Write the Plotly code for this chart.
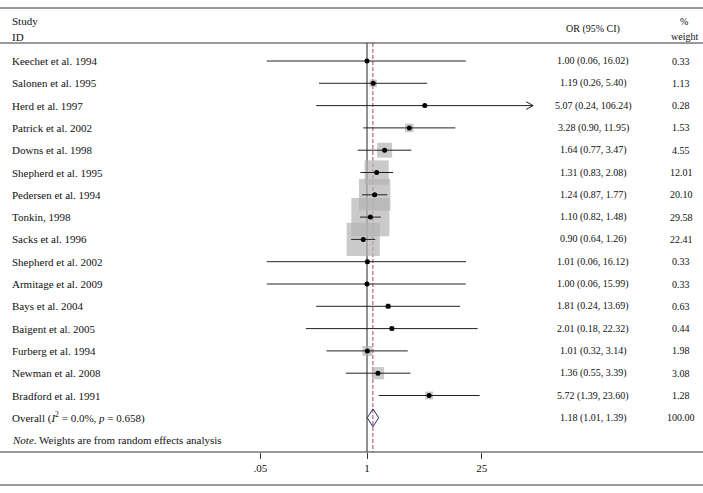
import numpy as np
import plotly.graph_objects as go

studies = [
    "Keechet et al. 1994", "Salonen et al. 1995", "Herd et al. 1997", "Patrick et al. 2002",
    "Downs et al. 1998", "Shepherd et al. 1995", "Pedersen et al. 1994", "Tonkin, 1998",
    "Sacks et al. 1996", "Shepherd et al. 2002", "Armitage et al. 2009", "Bays et al. 2004",
    "Baigent et al. 2005", "Furberg et al. 1994", "Newman et al. 2008", "Bradford et al. 1991",
]
or_est = [1.00, 1.19, 5.07, 3.28, 1.64, 1.31, 1.24, 1.10, 0.90, 1.01, 1.00, 1.81, 2.01, 1.01, 1.36, 5.72]
ci_lo = [0.06, 0.26, 0.24, 0.90, 0.77, 0.83, 0.87, 0.82, 0.64, 0.06, 0.06, 0.24, 0.18, 0.32, 0.55, 1.39]
ci_hi = [16.02, 5.40, 106.24, 11.95, 3.47, 2.08, 1.77, 1.48, 1.26, 16.12, 15.99, 13.69, 22.32, 3.14, 3.39, 23.60]
weight = [0.33, 1.13, 0.28, 1.53, 4.55, 12.01, 20.10, 29.58, 22.41, 0.33, 0.33, 0.63, 0.44, 1.98, 3.08, 1.28]

overall = {"est": 1.18, "lo": 1.01, "hi": 1.39, "weight": 100.00}
tick_vals = [0.05, 1, 25]
tick_text = [".05", "1", "25"]

W, H = 703, 493
PLOT_H = 452
PX_DEC = 82      # pixels per decade on the OR axis
PX_ROW = 22.3    # pixels per study row
FONT = "Liberation Serif"
FS = 11
FS_NUM = 10

rows = np.arange(len(studies))
lx = np.log10(or_est)
llo = np.log10(ci_lo)
lhi = np.log10(ci_hi)

fig = go.Figure()

# weight squares
fig.add_trace(go.Scatter(
    x=lx, y=rows, mode="markers",
    marker=dict(symbol="square", size=7 * np.sqrt(weight), color="#b4b4b4", line=dict(width=0)),
    hoverinfo="skip", showlegend=False,
))

# confidence intervals (arrowhead where the interval runs off the scale)
cx, cy = [], []
for i in rows:
    cx += [llo[i], lhi[i], None]
    cy += [i, i, None]
herd = studies.index("Herd et al. 1997")
back = 7 / PX_DEC
cx += [lhi[herd] - back, lhi[herd], lhi[herd] - back, None]
cy += [herd - 0.17, herd, herd + 0.17, None]
fig.add_trace(go.Scatter(x=cx, y=cy, mode="lines", line=dict(color="#222", width=1),
                         hoverinfo="skip", showlegend=False))

# point estimates
fig.add_trace(go.Scatter(x=lx, y=rows, mode="markers",
                         marker=dict(symbol="circle", size=5, color="black"),
                         showlegend=False))

# overall diamond
oy = len(studies)
ox = np.log10([overall["lo"], overall["est"], overall["hi"], overall["est"], overall["lo"]])
fig.add_trace(go.Scatter(x=ox, y=[oy, oy - 0.4, oy, oy + 0.4, oy], mode="lines",
                         line=dict(color="#2b2a7a", width=1), showlegend=False))

x_left = -367 / PX_DEC
x_right = (W - 367) / PX_DEC
y_top = -61 / PX_ROW
y_bot = (PLOT_H - 61) / PX_ROW


def py(pix):
    return 1 - pix / PLOT_H


# reference lines
fig.add_shape(type="line", x0=0, x1=0, y0=py(43), y1=0, xref="x", yref="paper",
              line=dict(color="#222", width=1), layer="below")
fig.add_shape(type="line", x0=np.log10(overall["est"]), x1=np.log10(overall["est"]),
              y0=py(43), y1=0, xref="x", yref="paper",
              line=dict(color="#a8455e", width=1, dash="4px,2px"), layer="below")
for pix in [8, 43, 452, 485]:
    fig.add_shape(type="line", x0=0, x1=1, y0=py(pix), y1=py(pix), xref="paper", yref="paper",
                  line=dict(color="#333", width=1))


def label(x, y, text, yref="y", anchor="center", size=FS):
    fig.add_annotation(x=x / W, y=y, text=text, xref="paper", yref=yref, xanchor=anchor,
                       yanchor="middle", showarrow=False,
                       font=dict(family=FONT, size=size, color="#111"))


# headers
label(10, py(21), "Study", "paper", "left")
label(10, py(37), "ID", "paper", "left")
label(593, py(29), "OR (95% CI)", "paper", size=FS_NUM)
label(684, py(21), "%", "paper", size=FS_NUM)
label(684, py(37), "weight", "paper", size=FS_NUM)

for i, name in enumerate(studies):
    label(10, i, name, anchor="left")
    label(593, i, f"{or_est[i]:.2f} ({ci_lo[i]:.2f}, {ci_hi[i]:.2f})", size=FS_NUM)
    label(681, i, f"{weight[i]:.2f}", size=FS_NUM)

label(10, oy, "Overall (<i>I</i><sup>2</sup> = 0.0%, <i>p</i> = 0.658)", anchor="left")
label(593, oy, f"{overall['est']:.2f} ({overall['lo']:.2f}, {overall['hi']:.2f})", size=FS_NUM)
label(681, oy, f"{overall['weight']:.2f}", size=FS_NUM)
label(10, oy + 1, "<i>Note</i>. Weights are from random effects analysis", anchor="left")

fig.update_layout(
    width=W, height=H,
    margin=dict(l=0, r=0, t=0, b=H - PLOT_H),
    paper_bgcolor="white", plot_bgcolor="white",
    showlegend=False,
    xaxis=dict(range=[x_left, x_right], tickvals=np.log10(tick_vals), ticktext=tick_text,
               ticks="outside", ticklen=6, tickcolor="#333", showgrid=False, zeroline=False,
               showline=False, tickfont=dict(family=FONT, size=FS, color="#111")),
    yaxis=dict(range=[y_bot, y_top], visible=False, showgrid=False, zeroline=False),
)

fig.write_html("out.html", config={"displayModeBar": False},
               post_script="document.body.style.margin='0';")
